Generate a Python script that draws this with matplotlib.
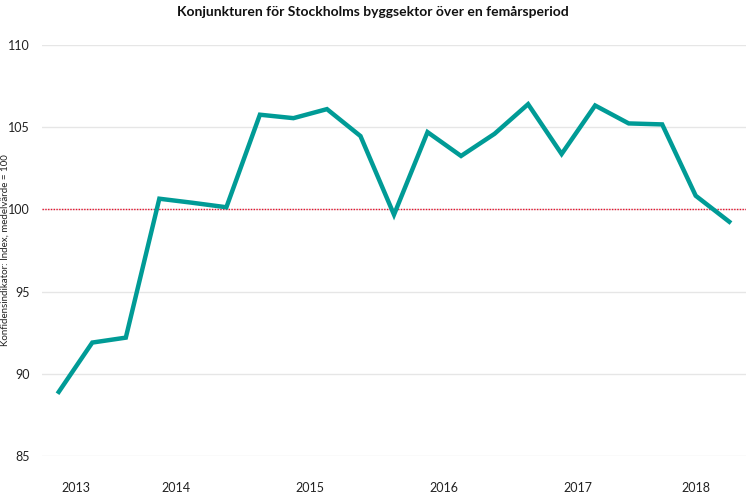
import matplotlib
matplotlib.use('Agg')
import matplotlib.pyplot as plt

# kvartal Q3 2013 .. Q3 2018
values = [88.9, 91.9, 92.2, 100.65, 100.4, 100.13, 105.76, 105.55, 106.1, 104.46,
          99.68, 104.7, 103.25, 104.6, 106.4, 103.37, 106.32, 105.23, 105.17, 100.83, 99.25]
years = ['2013', '2014', '2015', '2016', '2017', '2018']
year_pos = [0.5, 3.5, 7.5, 11.5, 15.5, 19]
y_ticks = [85, 90, 95, 100, 105, 110]

plt.rcParams['font.family'] = ['Lato', 'DejaVu Sans']

fig = plt.figure(figsize=(7.46, 4.97), dpi=100)
ax = fig.add_axes([42 / 746, 1 - 456 / 497, 704 / 746, 411 / 497])

x = list(range(len(values)))
ax.plot(x, values, color='#009b96', lw=3.2, solid_joinstyle='miter', zorder=3)
ax.axhline(100, color='#e8112d', lw=1.0, ls=(0, (1, 1)), zorder=2)

ax.set_xlim(-0.5, 20.5)
ax.set_ylim(85, 110)
ax.set_yticks(y_ticks)
ax.set_yticklabels([str(t) for t in y_ticks], fontsize=9, color='#222222')
ax.set_xticks(year_pos)
ax.set_xticklabels(years, fontsize=9, color='#222222')
ax.tick_params(axis='both', length=0)
ax.tick_params(axis='y', pad=9)
ax.tick_params(axis='x', pad=19)
ax.grid(axis='y', color='#e6e6e6', lw=1)
ax.set_axisbelow(True)
for s in ax.spines.values():
    s.set_visible(False)

fig.text(0.5, 1 - 12 / 497, 'Konjunkturen för Stockholms byggsektor över en femårsperiod',
         ha='center', va='center', fontsize=10, fontweight='bold', color='#111111')
fig.text(5 / 746, 0.5 + (497 / 2 - 250) / 497, 'Konfidensindikator: Index, medelvärde = 100',
         rotation=90, ha='center', va='center', fontsize=7, color='#222222')

fig.savefig('out.png', dpi=100)
